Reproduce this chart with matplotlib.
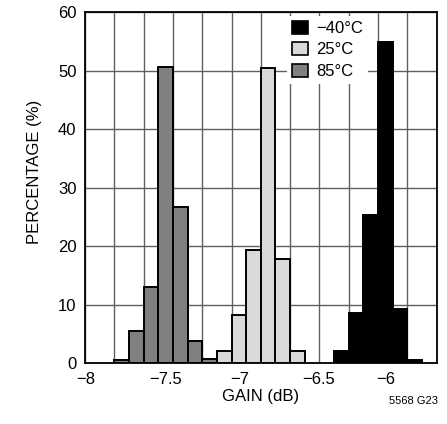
import matplotlib
matplotlib.use("Agg")
import matplotlib.pyplot as plt
from matplotlib.ticker import MultipleLocator
from matplotlib.patches import Patch
import matplotlib.transforms as mtransforms

plt.rcParams['font.family'] = ['Liberation Sans', 'DejaVu Sans']

# histogram bins (left edge, dB) and percentages
bins_85 = [-7.8, -7.7, -7.6, -7.5, -7.4, -7.3, -7.2]
pct_85 = [0.5, 5.5, 13.0, 50.6, 26.6, 3.7, 0.6]

bins_25 = [-7.1, -7.0, -6.9, -6.8, -6.7, -6.6]
pct_25 = [2.0, 8.2, 19.3, 50.4, 17.8, 2.0]

bins_m40 = [-6.3, -6.2, -6.1, -6.0, -5.9, -5.8]
pct_m40 = [2.0, 8.5, 25.3, 55.0, 9.2, 0.5]

bin_width = 0.1

xtick_vals = [-8, -7.5, -7, -6.5, -6]
xtick_labels = ['\u22128', '\u22127.5', '\u22127', '\u22126.5', '\u22126']
ytick_vals = [0, 10, 20, 30, 40, 50, 60]

legend_labels = ['\u221240\u00b0C', '25\u00b0C', '85\u00b0C']
colors = ['black', '#d9d9d9', '#808080']

fs = 12

fig = plt.figure(figsize=(4.47, 4.24), dpi=100)
ax = fig.add_axes([0.190, 0.144, 0.787, 0.827])

ax.bar(bins_85, pct_85, width=bin_width, align='edge', color=colors[2],
       edgecolor='black', linewidth=1.4, zorder=3)
ax.bar(bins_25, pct_25, width=bin_width, align='edge', color=colors[1],
       edgecolor='black', linewidth=1.4, zorder=3)
ax.bar(bins_m40, pct_m40, width=bin_width, align='edge', color=colors[0],
       edgecolor='black', linewidth=1.4, zorder=3)

ax.set_xlim(-8, -5.6)
ax.set_ylim(0, 60)

ax.set_xticks(xtick_vals)
ax.set_xticklabels(xtick_labels)
ax.xaxis.set_minor_locator(MultipleLocator(0.2))
ax.xaxis.remove_overlapping_locs = False
ax.set_yticks(ytick_vals)

ax.tick_params(axis='both', which='both', length=0, labelsize=fs)
ax.tick_params(axis='x', pad=6.5)
ax.tick_params(axis='y', pad=6)

ax.grid(False)
ax.grid(True, which='minor', axis='x', color='#606060', linewidth=1.0, zorder=1)
ax.grid(True, which='major', axis='y', color='#606060', linewidth=1.0, zorder=1)
ax.set_axisbelow(True)

for s in ax.spines.values():
    s.set_color('black')
    s.set_linewidth(1.3)

# labels in the original sit a bit right of their ticks
shifts = [1, 7, 8, 14, 8]
for lab, dx in zip(ax.get_xticklabels(), shifts):
    off = mtransforms.ScaledTranslation(dx / 100.0, 0, fig.dpi_scale_trans)
    lab.set_transform(lab.get_transform() + off)

ax.set_xlabel('GAIN (dB)', fontsize=fs)
ax.xaxis.set_label_coords(0.5, -0.075)
ax.set_ylabel('PERCENTAGE (%)', fontsize=fs)
ax.yaxis.set_label_coords(-0.122, 0.545)

handles = [Patch(facecolor=c, edgecolor='black', linewidth=1.2) for c in colors]
leg = ax.legend(handles, legend_labels, loc='upper left',
                bbox_to_anchor=(0.575, 0.99), fontsize=fs,
                frameon=True, fancybox=False, framealpha=1,
                facecolor='white', edgecolor='none',
                handlelength=0.95, handleheight=0.8, handletextpad=0.5,
                labelspacing=0.38, borderpad=0.3, borderaxespad=0)
leg.set_zorder(5)

fig.text(0.98, 0.054, '5568 G23', fontsize=8, ha='right', va='center')

fig.savefig('out.png', dpi=100)
